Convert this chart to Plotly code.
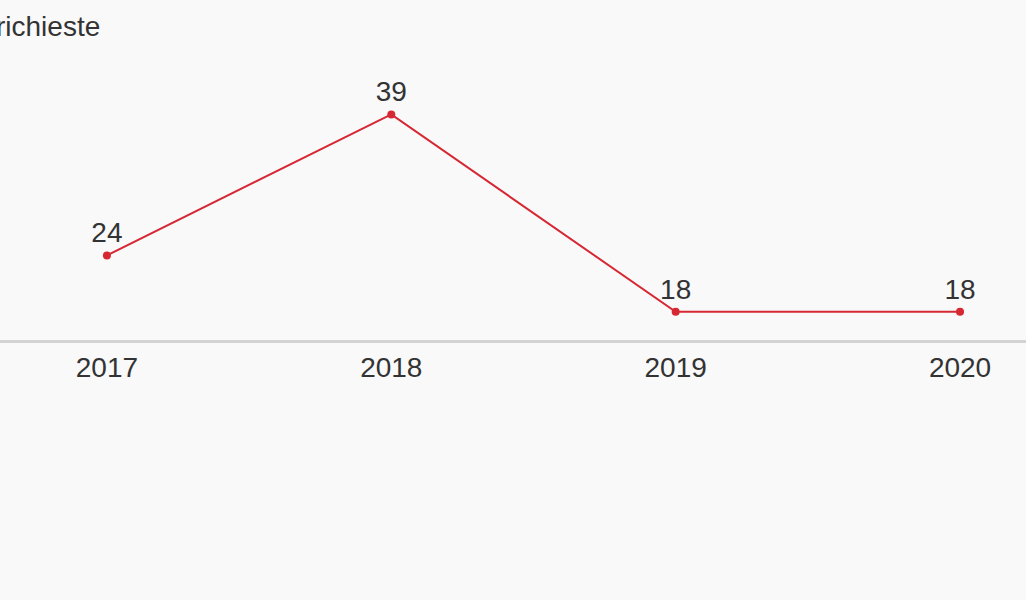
import plotly.graph_objects as go

years = ["2017", "2018", "2019", "2020"]
values = [24, 39, 18, 18]

FONT = "Liberation Sans, Arial, sans-serif"

fig = go.Figure()
fig.add_trace(go.Scatter(
    x=years, y=values,
    mode="lines+markers+text",
    text=[str(v) for v in values],
    textposition="top center",
    textfont=dict(family=FONT, size=28, color="#333333"),
    line=dict(color="#d62833", width=2),
    marker=dict(color="#d62833", size=8),
    cliponaxis=False,
    hoverinfo="skip",
))

fig.update_layout(
    width=1026, height=600,
    margin=dict(l=0, r=0, t=58, b=260),
    paper_bgcolor="#f9f9f9",
    plot_bgcolor="#f9f9f9",
    showlegend=False,
    font=dict(family=FONT, size=28, color="#333333"),
)
fig.update_xaxes(
    type="category",
    range=[-0.376, 3.232],
    showgrid=False, zeroline=False,
    showline=True, linecolor="#d3d3d3", linewidth=3,
    ticks="", tickfont=dict(family=FONT, size=28, color="#333333"),
    ticklabelstandoff=0,
)
fig.update_yaxes(
    range=[15, 45], visible=False, showgrid=False, zeroline=False,
)
fig.add_annotation(
    text="richieste", xref="paper", yref="paper",
    x=-0.006, y=1, xanchor="left", yanchor="bottom", yshift=14,
    showarrow=False, font=dict(family=FONT, size=28, color="#333333"),
)
fig.write_html(
    "out.html",
    config={"displayModeBar": False},
    post_script="document.body.style.margin='0';document.body.style.background='#f9f9f9';",
)
